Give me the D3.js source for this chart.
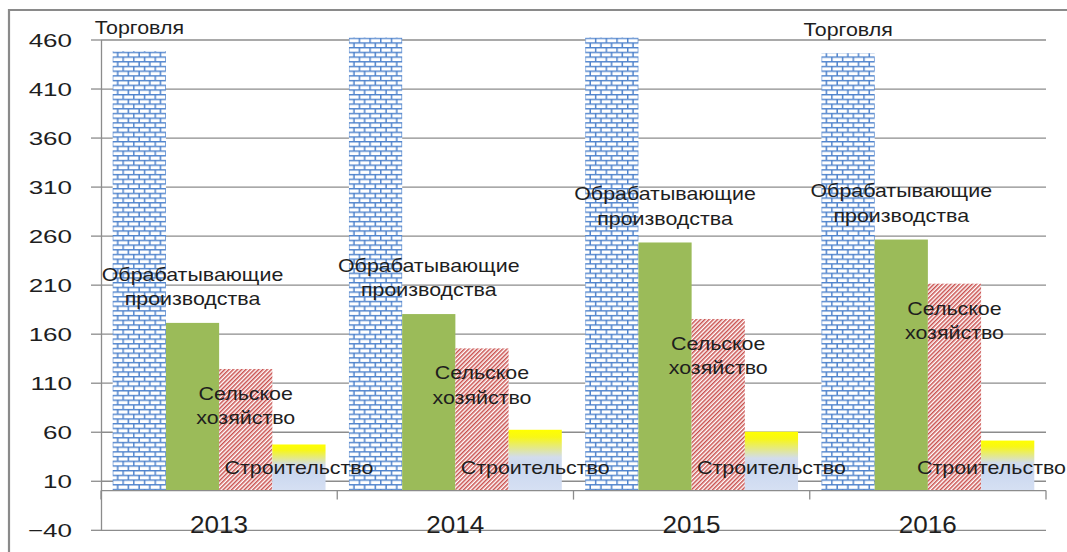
<!DOCTYPE html>
<html><head><meta charset="utf-8">
<script src="https://cdn.jsdelivr.net/npm/d3@7"></script>
<style>body{margin:0;background:#fff}svg{display:block}</style>
</head><body>
<svg id="c" width="1067" height="552"></svg>
<script>
const years = ["2013", "2014", "2015", "2016"];
const seriesKeys = ["trade", "manufacturing", "agriculture", "construction"];
const seriesNames = ["Торговля", "Обрабатывающие производства", "Сельское хозяйство", "Строительство"];
const trade = [448, 462, 462, 446];
const manufacturing = [171, 180, 253, 256];
const agriculture = [124, 145, 175, 211];
const construction = [47, 62, 60, 51];
const tradeLabelShown = [true, false, false, true];
const yTicks = [-40, 10, 60, 110, 160, 210, 260, 310, 360, 410, 460];

const values = {trade, manufacturing, agriculture, construction};
const svg = d3.select("#c");
const W = 1067, H = 552;
const left = 101, right = 1046;
const FONT = "Liberation Sans, Arial, sans-serif";

svg.append("rect").attr("width", W).attr("height", H).attr("fill", "#fff");

const defs = svg.append("defs");
// brick pattern
const bw = 10.7, bh = 4.7;
const brick = defs.append("pattern").attr("id", "brick").attr("patternUnits", "userSpaceOnUse")
  .attr("width", bw).attr("height", bh * 2);
brick.append("rect").attr("width", bw).attr("height", bh * 2).attr("fill", "#fff");
brick.append("path").attr("d",
  `M0,0.7H${bw} M0,${bh + 0.7}H${bw} M0.7,0V${bh} M${bw / 2 + 0.7},${bh}V${bh * 2}`)
  .attr("stroke", "#4f83cc").attr("stroke-width", 1.5).attr("fill", "none");
// diagonal stripes
const stripes = defs.append("pattern").attr("id", "stripes").attr("patternUnits", "userSpaceOnUse")
  .attr("width", 3).attr("height", 3).attr("patternTransform", "rotate(45)");
stripes.append("rect").attr("width", 3).attr("height", 3).attr("fill", "#fff");
stripes.append("rect").attr("width", 1.5).attr("height", 3).attr("fill", "#c9504e");
// gradient
const grad = defs.append("linearGradient").attr("id", "grad").attr("x1", 0).attr("y1", 0).attr("x2", 0).attr("y2", 1);
[[0, "#ffff00"], [0.12, "#f8f716"], [0.45, "#d2dcec"], [0.6, "#cad7ef"], [1, "#d6e0f3"]]
  .forEach(([o, c]) => grad.append("stop").attr("offset", o).attr("stop-color", c));

const fills = {trade: "url(#brick)", manufacturing: "#9bbb59", agriculture: "url(#stripes)", construction: "url(#grad)"};

// frame
svg.append("path").attr("d", "M9,552V10H1067").attr("fill", "none").attr("stroke", "#8a8a8a").attr("stroke-width", 2.2);

const y = d3.scaleLinear().domain([-40, 460]).range([529.8, 39.5]);
const x0 = d3.scaleBand().domain(years).range([left, right]);
const x1 = d3.scaleBand().domain(seriesKeys).range([0, x0.bandwidth()]).paddingOuter(0.22).paddingInner(0);

// gridlines
const grid = svg.append("g").attr("transform", `translate(${left},0)`)
  .call(d3.axisLeft(y).tickValues(yTicks).tickSize(-(right - left)).tickFormat(""));
grid.select(".domain").remove();
grid.selectAll("line").attr("stroke", "#8c8c8c").attr("stroke-width", 1.3);

// y axis
const tickSx = 1.37;
const yAxis = svg.append("g").attr("transform", `translate(${left},0)`)
  .call(d3.axisLeft(y).tickValues(yTicks).tickSize(10).tickSizeOuter(0));
yAxis.select(".domain").attr("stroke", "#8c8c8c").attr("stroke-width", 1.3);
yAxis.selectAll("line").attr("stroke", "#8c8c8c").attr("stroke-width", 1.3);
yAxis.selectAll("text").attr("font-family", FONT).attr("font-size", 19).attr("fill", "#1e1e1e")
  .attr("text-anchor", "end").attr("x", -29 / tickSx).attr("dy", "0.36em")
  .attr("transform", `scale(${tickSx},1)`);

// bars
const groups = svg.append("g").selectAll("g").data(years).join("g")
  .attr("transform", d => `translate(${x0(d)},0)`);
groups.selectAll("rect").data((d, i) => seriesKeys.map(k => ({k, v: values[k][i]})))
  .join("rect")
  .attr("x", d => x1(d.k)).attr("width", x1.bandwidth())
  .attr("y", d => y(Math.max(0, d.v))).attr("height", d => Math.abs(y(d.v) - y(0)))
  .attr("fill", d => fills[d.k]);

// category axis at 0
const xAxis = svg.append("g").attr("transform", `translate(0,${y(0)})`);
xAxis.append("line").attr("x1", left).attr("x2", right).attr("stroke", "#8c8c8c").attr("stroke-width", 1.3);
xAxis.selectAll(".t").data(years.map(d => x0(d)).concat([right])).join("line").attr("class", "t")
  .attr("x1", d => d).attr("x2", d => d).attr("y1", 0).attr("y2", 9)
  .attr("stroke", "#8c8c8c").attr("stroke-width", 1.3);

// year labels
const yearSx = 1.12;
svg.append("g").selectAll("text").data(years).join("text")
  .attr("transform", d => `translate(${x0(d) + x0.bandwidth() / 2},532.7) scale(${yearSx},1)`)
  .attr("text-anchor", "middle").attr("font-family", FONT).attr("font-size", 23.3).attr("fill", "#1e1e1e")
  .text(d => d);

// data labels (kept inside the chart area, like the spreadsheet does)
const labSx = 1.21, labFs = 17.7, lh = 24.5;
function label(cx, cyFirst, lines) {
  lines.forEach((t, j) => {
    const el = svg.append("text")
      .attr("text-anchor", "middle").attr("font-family", FONT).attr("font-size", labFs).attr("fill", "#1e1e1e")
      .text(t);
    const w = el.node().getComputedTextLength() * labSx;
    const x = Math.min(cx, W - 1 - w / 2);
    el.attr("transform", `translate(${x},${cyFirst + j * lh + 0.36 * labFs}) scale(${labSx},1)`);
  });
}
years.forEach((yr, i) => {
  const cx = k => x0(yr) + x1(k) + x1.bandwidth() / 2;
  if (tradeLabelShown[i]) label(cx("trade"), y(trade[i]) - 24, [seriesNames[0]]);
  const mLines = seriesNames[1].split(" ");
  label(cx("manufacturing"), y(manufacturing[i]) - 24 - lh * (mLines.length - 1), mLines);
  label(cx("agriculture"), y(agriculture[i]) + 24.5, seriesNames[2].split(" "));
  label(cx("construction"), y(0) - 22.5, [seriesNames[3]]);
});
</script>
</body></html>
